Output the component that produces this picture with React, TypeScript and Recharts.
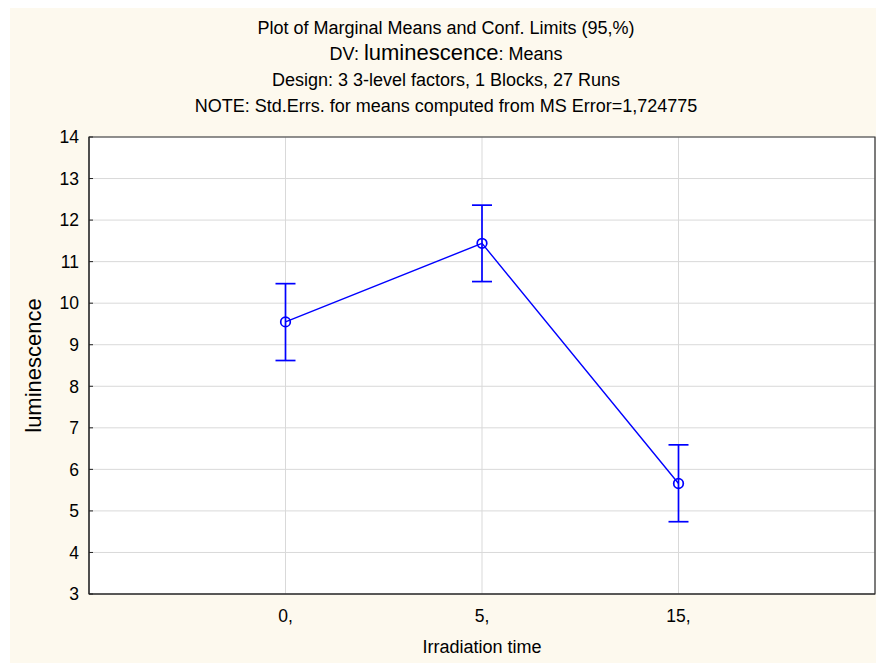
import { ComposedChart, Line, XAxis, YAxis, CartesianGrid, ErrorBar, ReferenceArea, Label } from "recharts";

const categories = ["0,", "5,", "15,"];
const means = [9.55, 11.44, 5.66];
const lowerLimits = [8.62, 10.52, 4.74];
const upperLimits = [10.47, 12.36, 6.59];
const yTicks = [3, 4, 5, 6, 7, 8, 9, 10, 11, 12, 13, 14];

const data = categories.map((c, i) => ({
  pos: i + 1,
  label: c,
  mean: means[i],
  err: [means[i] - lowerLimits[i], upperLimits[i] - means[i]],
}));

const FONT = "'Liberation Sans', Arial, sans-serif";
const CREAM = "#fdf9ee";

function TitleLine({ top, children }: { top: number; children: React.ReactNode }) {
  return (
    <div style={{ position: "absolute", left: 436, top, transform: "translateX(-50%)", whiteSpace: "nowrap", fontSize: 18, lineHeight: "22px", color: "#000" }}>
      {children}
    </div>
  );
}

// y tick: label left of the axis, short dark mark pointing into the plot
function YTick(props: any) {
  const { x, y, payload } = props;
  return (
    <g>
      <text x={x} y={y} dy="0.36em" textAnchor="end" fontFamily={FONT} fontSize={17.5} fill="#000">
        {payload.value}
      </text>
      <line x1={x + 10} x2={x + 14} y1={y} y2={y} stroke="#222" />
    </g>
  );
}

export default function App() {
  return (
    <div style={{ position: "relative", width: 874, height: 658, margin: "-3px 0 0 2px", background: CREAM, fontFamily: FONT }}>
      <TitleLine top={12}>Plot of Marginal Means and Conf. Limits (95,%)</TitleLine>
      <TitleLine top={37}>DV: <span style={{ fontSize: 22 }}>luminescence</span>: Means</TitleLine>
      <TitleLine top={64}>Design: 3 3-level factors, 1 Blocks, 27 Runs</TitleLine>
      <TitleLine top={90}>NOTE: Std.Errs. for means computed from MS Error=1,724775</TitleLine>
      <ComposedChart width={874} height={658} data={data} margin={{ top: 132, right: 9, bottom: 0, left: 0 }} style={{ position: "absolute", left: 0, top: 0 }}>
        <CartesianGrid stroke="#d9d9d9" fill="#ffffff" fillOpacity={1} />
        <XAxis
          dataKey="pos"
          type="number"
          domain={[0, 4]}
          ticks={[1, 2, 3]}
          tickFormatter={(v: number) => categories[v - 1]}
          height={69}
          axisLine={{ stroke: "#222" }}
          tickLine={false}
          tick={{ fontFamily: FONT, fontSize: 17.5, fill: "#000" }}
          tickMargin={10}
        >
          <Label value="Irradiation time" position="insideBottom" offset={10} style={{ fontFamily: FONT, fontSize: 18, fill: "#000" }} />
        </XAxis>
        <YAxis
          domain={[3, 14]}
          ticks={yTicks}
          interval={0}
          width={79}
          axisLine={{ stroke: "#222" }}
          tickLine={false}
          tickSize={0}
          tickMargin={10}
          tick={<YTick />}
        >
          <Label value="luminescence" angle={-90} position="insideLeft" offset={23} style={{ fontFamily: FONT, fontSize: 22, fill: "#000", textAnchor: "middle" }} />
        </YAxis>
        <ReferenceArea x1={0} x2={4} y1={3} y2={14} fill="none" stroke="#333" strokeWidth={1.2} />
        <Line
          dataKey="mean"
          stroke="#0000ff"
          strokeWidth={1.4}
          isAnimationActive={false}
          dot={{ r: 4.8, stroke: "#0000ff", strokeWidth: 1.7, fill: "none" }}
          activeDot={false}
        >
          <ErrorBar dataKey="err" width={10} stroke="#0000ff" strokeWidth={1.7} direction="y" />
        </Line>
      </ComposedChart>
    </div>
  );
}
